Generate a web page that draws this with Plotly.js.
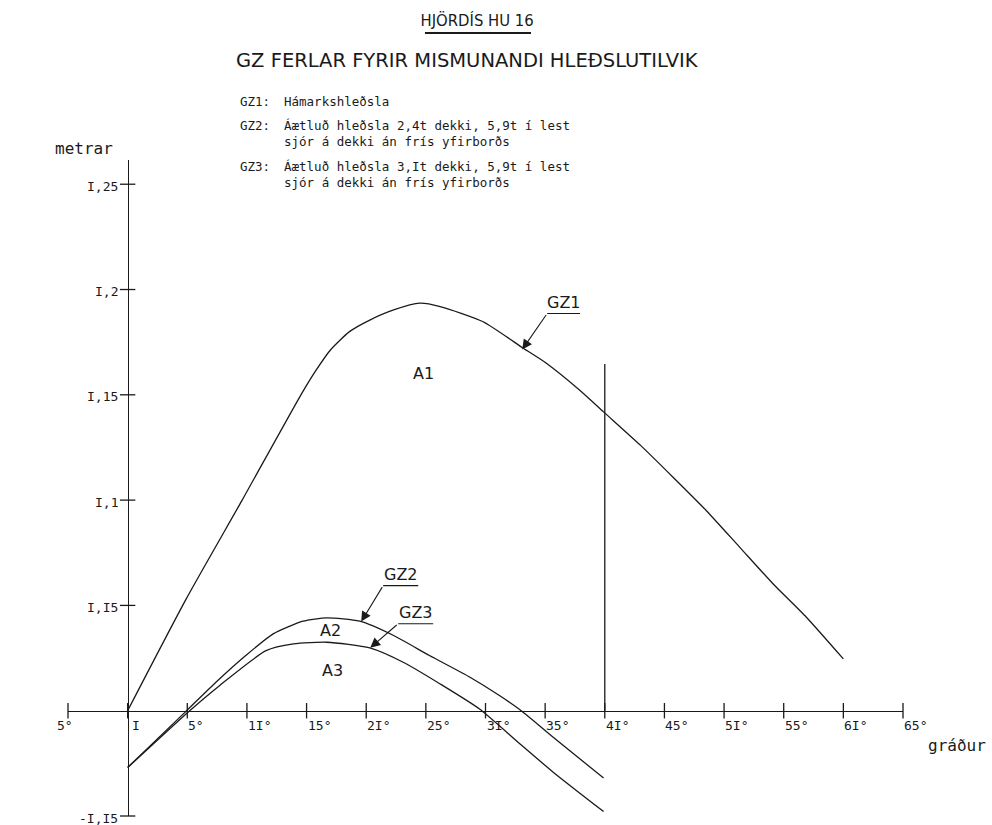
<!DOCTYPE html>
<html>
<head>
<meta charset="utf-8">
<script src="https://cdn.plot.ly/plotly-3.0.1.min.js"></script>
<style>html,body{margin:0;padding:0;background:#fff;}#chart{width:992px;height:825px;}</style>
</head>
<body>
<div id="chart"></div>
<script>
// ---- data ----
const anglesGZ1 = [0, 4.9, 9.6, 14.6, 15.8, 17.0, 18.6, 20.3, 22.3, 24.5, 26.2, 29.8, 33.2, 35.1, 37.9, 39.9, 43.0, 45.7, 48.5, 51.3, 54.1, 56.9, 60.0];
const gz1 = [0, 0.0530, 0.1000, 0.1507, 0.1617, 0.1713, 0.1800, 0.1855, 0.1903, 0.1935, 0.1919, 0.1847, 0.1720, 0.1650, 0.1522, 0.1419, 0.1260, 0.1110, 0.0951, 0.0777, 0.0603, 0.0444, 0.0246];
const anglesGZ2 = [0, 4.8, 7.4, 9.9, 12.2, 14.7, 16.7, 19.45, 22.3, 25.3, 28.7, 31.2, 33.0, 35.7, 39.9];
const gz2 = [-0.027, -0.0008, 0.0135, 0.0262, 0.0365, 0.0425, 0.0441, 0.0425, 0.0357, 0.0262, 0.0159, 0.0071, 0, -0.0127, -0.0320];
const anglesGZ3 = [0, 5.2, 7.7, 11.6, 13.9, 16.7, 20.3, 23.1, 26.2, 29.5, 32.9, 35.7, 39.9];
const gz3 = [-0.027, 0, 0.0119, 0.0285, 0.0317, 0.0325, 0.0298, 0.0230, 0.0127, 0.0008, -0.0158, -0.0293, -0.0479];
const markerAngle = [40, 40];
const markerHeight = [0, 0.1646];

const xTickVals = [-5, 0, 5, 10, 15, 20, 25, 30, 35, 40, 45, 50, 55, 60, 65];
const xTickText = ['5°', 'I', '5°', '1I°', '15°', '2I°', '25°', '3I°', '35°', '4I°', '45°', '5I°', '55°', '6I°', '65°'];
const yTickVals = [0.25, 0.2, 0.15, 0.1, 0.05, -0.05];
const yTickText = ['I,25', 'I,2', 'I,15', 'I,1', 'I,I5', '-I,I5'];

const titleText = 'HJÖRDÍS HU 16';
const subtitleText = 'GZ FERLAR FYRIR MISMUNANDI HLEÐSLUTILVIK';
const noteLabels = ['GZ1:', 'GZ2:', 'GZ3:'];
const noteTexts = ['Hámarkshleðsla',
  'Áætluð hleðsla 2,4t dekki, 5,9t í lest<br>sjór á dekki án frís yfirborðs',
  'Áætluð hleðsla 3,It dekki, 5,9t í lest<br>sjór á dekki án frís yfirborðs'];
const seriesNames = ['GZ1', 'GZ2', 'GZ3'];
const areaNames = ['A1', 'A2', 'A3'];

// ---- styling ----
const INK = '#1a1a1a';
const MONO = 'DejaVu Sans Mono, monospace';
const SANS = 'DejaVu Sans, sans-serif';
const curveLine = {color: INK, width: 1.3, shape: 'spline', smoothing: 0.6};

const traces = [
  {x: anglesGZ1, y: gz1, mode: 'lines', line: curveLine, name: seriesNames[0], hoverinfo: 'skip'},
  {x: anglesGZ2, y: gz2, mode: 'lines', line: curveLine, name: seriesNames[1], hoverinfo: 'skip'},
  {x: anglesGZ3, y: gz3, mode: 'lines', line: curveLine, name: seriesNames[2], hoverinfo: 'skip'},
  {x: markerAngle, y: markerHeight, mode: 'lines', line: {color: INK, width: 1.3}, hoverinfo: 'skip'},
  {x: xTickVals, y: xTickVals.map(() => 0), mode: 'markers', cliponaxis: false,
   marker: {symbol: 'line-ns', size: 11, line: {color: INK, width: 1.3}}, hoverinfo: 'skip'},
  {x: yTickVals.map(() => 0), y: yTickVals, mode: 'markers', cliponaxis: false,
   marker: {symbol: 'line-ew', size: 11, line: {color: INK, width: 1.3}}, hoverinfo: 'skip'}
];

const yRange = [-0.05, 0.2615];
const xRange = [-5, 65];

const annotations = [];
// x tick labels
xTickVals.forEach((v, i) => {
  const first = i === 0;
  annotations.push({x: v, y: 0, xref: 'x', yref: 'y', text: xTickText[i], showarrow: false,
    xanchor: first ? 'center' : 'left', yanchor: 'top', xshift: first ? -3 : (v === 0 ? 2 : -1), yshift: -5,
    font: {family: MONO, size: 13, color: INK}});
});
// y tick labels
yTickVals.forEach((v, i) => {
  annotations.push({x: 0, y: v, xref: 'x', yref: 'y', text: yTickText[i], showarrow: false,
    xanchor: 'right', yanchor: 'middle', xshift: -8, yshift: -2,
    font: {family: MONO, size: 13, color: INK}});
});
// axis titles
annotations.push({x: 0.0186, y: 1.0168, xref: 'paper', yref: 'paper', text: 'metrar', showarrow: false,
  xanchor: 'center', yanchor: 'middle', font: {family: MONO, size: 16, color: INK}});
annotations.push({x: 1.0647, y: 0.108, xref: 'paper', yref: 'paper', text: 'gráður', showarrow: false,
  xanchor: 'center', yanchor: 'middle', font: {family: MONO, size: 16, color: INK}});
// subtitle
annotations.push({x: 0.478, y: 1.1524, xref: 'paper', yref: 'paper', text: subtitleText, showarrow: false,
  xanchor: 'center', yanchor: 'middle', font: {family: SANS, size: 19.5, color: INK}});
// notes: label column + text column
const noteLabelY = [1.0899, 1.0530, 0.9900];
const noteTextY = [1.0899, 1.0405, 0.9780];
noteTexts.forEach((t, i) => {
  annotations.push({x: 0.2036, y: noteLabelY[i], xref: 'paper', yref: 'paper', text: noteLabels[i],
    showarrow: false, xanchor: 'left', yanchor: 'middle', font: {family: MONO, size: 12.5, color: INK}});
  annotations.push({x: 0.2563, y: noteTextY[i], xref: 'paper', yref: 'paper', text: t, align: 'left',
    showarrow: false, xanchor: 'left', yanchor: 'middle', font: {family: MONO, size: 12.5, color: INK}});
});
// area labels
const areaPos = [[24.8, 0.160], [17.0, 0.038], [17.2, 0.019]];
areaNames.forEach((n, i) => annotations.push({x: areaPos[i][0], y: areaPos[i][1], xref: 'x', yref: 'y', text: n,
  showarrow: false, font: {family: SANS, size: 16, color: INK}}));
// curve labels with leader arrows
const leaders = [
  {tip: [33.08, 0.1715], tail: [35.17, 0.1886], end: 37.93},
  {tip: [19.58, 0.0423], tail: [21.42, 0.0594], end: 24.36},
  {tip: [20.34, 0.0299], tail: [22.68, 0.0413], end: 25.61}
];
const shapes = [];
leaders.forEach((L, i) => {
  annotations.push({x: L.tip[0], y: L.tip[1], xref: 'x', yref: 'y', ax: L.tail[0], ay: L.tail[1],
    axref: 'x', ayref: 'y', text: '', showarrow: true, arrowhead: 2, arrowsize: 1.8, arrowwidth: 1.1,
    arrowcolor: INK, standoff: 0});
  annotations.push({x: (L.tail[0] + L.end) / 2, y: L.tail[1], xref: 'x', yref: 'y', text: seriesNames[i],
    showarrow: false, xanchor: 'center', yanchor: 'bottom', yshift: 0, font: {family: SANS, size: 16, color: INK}});
  shapes.push({type: 'line', xref: 'x', yref: 'y', x0: L.tail[0], x1: L.end, y0: L.tail[1], y1: L.tail[1],
    line: {color: INK, width: 1.1}});
});
// title underline
shapes.push({type: 'line', xref: 'paper', yref: 'paper', x0: 0.4275, x1: 0.5545, y0: 1.1936, y1: 1.1936,
  line: {color: INK, width: 2}});

const layout = {
  width: 992, height: 825,
  margin: {l: 68, r: 89, t: 160, b: 9},
  paper_bgcolor: '#ffffff', plot_bgcolor: '#ffffff',
  showlegend: false,
  title: {text: titleText, x: 0.481, xref: 'container', y: 0.9758, yref: 'container',
    xanchor: 'center', yanchor: 'middle', font: {family: 'Liberation Sans Narrow, DejaVu Sans Condensed, sans-serif', size: 16.5, color: INK}},
  xaxis: {range: xRange, anchor: 'free', position: 0.05 / 0.3115, showline: true, linecolor: INK, linewidth: 1.3,
    showgrid: false, zeroline: false, ticks: '', showticklabels: false, fixedrange: true},
  yaxis: {range: yRange, anchor: 'free', position: 5 / 70, showline: true, linecolor: INK, linewidth: 1.3,
    showgrid: false, zeroline: false, ticks: '', showticklabels: false, fixedrange: true},
  annotations: annotations,
  shapes: shapes
};

Plotly.newPlot('chart', traces, layout, {staticPlot: true, displayModeBar: false});
</script>
</body>
</html>
